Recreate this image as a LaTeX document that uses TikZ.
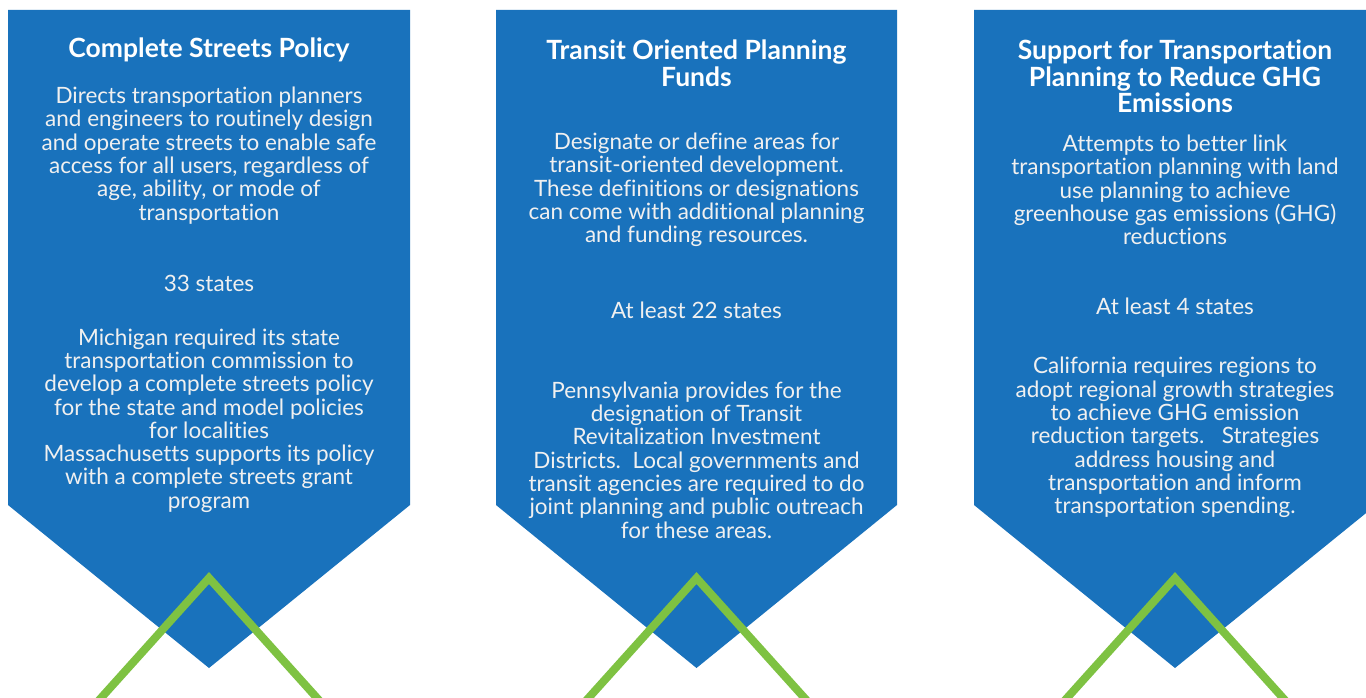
\documentclass[tikz,border=0pt]{standalone}
\usepackage{fontspec}
\setmainfont{Lato}[Ligatures=CommonOff]
\usetikzlibrary{positioning,calc}

\definecolor{panelblue}{RGB}{25,114,188}
\definecolor{chevgreen}{RGB}{126,194,66}

\tikzset{
  panel/.style={fill=panelblue, draw=none},
  chevron/.style={draw=chevgreen, line width=8pt, line join=miter},
  title/.style={text=white, align=center, inner sep=0pt,
    font=\bfseries\fontsize{26.5}{26.5}\selectfont},
  body/.style={text=white!94!black, align=center, inner sep=0pt,
    font=\fontsize{22.5}{23.3}\selectfont},
}

\begin{document}
\begin{tikzpicture}[x=1pt, y=-1pt]
	\clip (0,0) rectangle (1366,698);
	\fill[white] (0,0) rectangle (1366,698);

	% panels
	\draw[panel] (8,10) -- (410,10) -- (410,505) -- (209,668) -- (8,505) -- cycle;
	\draw[panel] (496,10) -- (897,10) -- (897,505) -- (696.5,668) -- (496,505) -- cycle;
	\draw[panel] (974,10) -- (1376,10) -- (1376,505) -- (1175,668) -- (974,505) -- cycle;

	% green chevrons
	\coordinate (apexStreets) at (209,578);
	\coordinate (apexTransit) at (696.5,578);
	\coordinate (apexGHG) at (1175,578);
	\draw[chevron] ($(apexStreets)+(-117,130)$) -- (apexStreets) -- ++(117,130);
	\draw[chevron] ($(apexTransit)+(-117,130)$) -- (apexTransit) -- ++(117,130);
	\draw[chevron] ($(apexGHG)+(-117,130)$) -- (apexGHG) -- ++(117,130);

	% Complete Streets Policy
	\node[title] (streetsTitle) at (209,50) {Complete Streets Policy};
	\node[body] (streetsText) at (209,155.5) {Directs transportation planners\\and engineers to routinely design\\and operate streets to enable safe\\access for all users, regardless of\\age, ability, or mode of\\transportation};
	\node[body] (streetsCount) at (209,283) {33 states};
	\node[body] (streetsExample) at (209,420.5) {Michigan required its state\\transportation commission to\\develop a complete streets policy\\for the state and model policies\\for localities\\Massachusetts supports its policy\\with a complete streets grant\\program};

	% Transit Oriented Planning Funds
	\node[title] (transitTitle) at (696.5,63.5) {Transit Oriented Planning\\Funds};
	\node[body] (transitText) at (696.5,190) {Designate or define areas for\\transit-oriented development.\\These definitions or designations\\can come with additional planning\\and funding resources.};
	\node[body] (transitCount) at (696.5,310) {At least 22 states};
	\node[body] (transitExample) at (696.5,460) {Pennsylvania provides for the\\designation of Transit\\Revitalization Investment\\Districts.\ \ Local governments and\\transit agencies are required to do\\joint planning and public outreach\\for these areas.};

	% Support for Transportation Planning to Reduce GHG Emissions
	\node[title] (ghgTitle) at (1175,76.5) {Support for Transportation\\Planning to Reduce GHG\\Emissions};
	\node[body] (ghgText) at (1175,190) {Attempts to better link\\transportation planning with land\\use planning to achieve\\greenhouse gas emissions (GHG)\\reductions};
	\node[body] (ghgCount) at (1175,306) {At least 4 states};
	\node[body] (ghgExample) at (1175,437.5) {California requires regions to\\adopt regional growth strategies\\to achieve GHG emission\\reduction targets.\ \ \ Strategies\\address housing and\\transportation and inform\\transportation spending.};
\end{tikzpicture}
\end{document}
